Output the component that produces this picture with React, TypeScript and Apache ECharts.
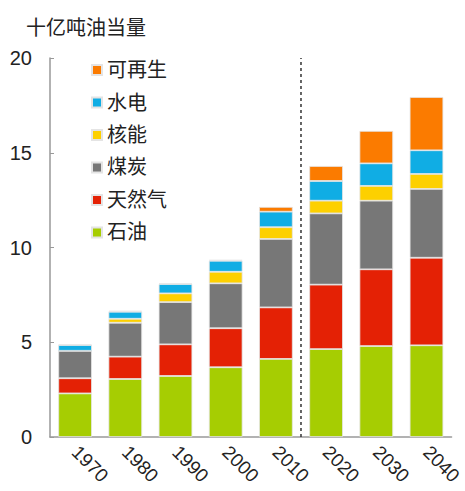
import React, { useEffect, useRef } from "react";
import * as echarts from "echarts";

const years = ["1970", "1980", "1990", "2000", "2010", "2020", "2030", "2040"];
const oil = [2.3, 3.06, 3.22, 3.68, 4.12, 4.64, 4.8, 4.84];
const gas = [0.8, 1.18, 1.67, 2.06, 2.72, 3.4, 4.05, 4.62];
const coal = [1.45, 1.79, 2.23, 2.37, 3.61, 3.76, 3.62, 3.63];
const nuclear = [0.0, 0.21, 0.46, 0.61, 0.62, 0.67, 0.78, 0.79];
const hydro = [0.3, 0.37, 0.49, 0.58, 0.82, 1.04, 1.19, 1.25];
const renewable = [0.04, 0.05, 0.04, 0.05, 0.25, 0.79, 1.71, 2.81];
const yTicks = [0, 5, 10, 15, 20];
const dividerIndex = 5;

const seriesDefs = [
  { name: "石油", data: oil, color: "#a6cd02" },
  { name: "天然气", data: gas, color: "#e42105" },
  { name: "煤炭", data: coal, color: "#777777" },
  { name: "核能", data: nuclear, color: "#fdd000" },
  { name: "水电", data: hydro, color: "#10ade4" },
  { name: "可再生", data: renewable, color: "#fb7b00" },
];

export default function App() {
  const ref = useRef<HTMLDivElement>(null);
  useEffect(() => {
    if (!ref.current) return;
    const chart = echarts.init(ref.current, null, { renderer: "svg" });
    const font = "Liberation Sans, Arial, Noto Sans CJK SC, sans-serif";
    chart.setOption({
      animation: false,
      textStyle: { fontFamily: font },
      title: {
        text: "十亿吨油当量",
        left: 21,
        top: 13,
        textStyle: { fontSize: 20, fontWeight: "normal", color: "#222", fontFamily: font },
      },
      legend: {
        orient: "vertical",
        left: 86,
        top: 55,
        itemWidth: 10,
        itemHeight: 10,
        itemGap: 12.5,
        icon: "rect",
        data: ["可再生", "水电", "核能", "煤炭", "天然气", "石油"],
        textStyle: { fontSize: 20, color: "#222", fontFamily: font },
      },
      grid: { left: 50, right: 10, top: 58, bottom: 54, containLabel: false },
      xAxis: [
        {
          type: "category",
          data: years,
          axisLine: { lineStyle: { color: "#999", width: 1.5 } },
          axisTick: { show: false },
          axisLabel: { rotate: -45, fontSize: 19, color: "#222", margin: 12, fontFamily: font },
        },
        { type: "value", min: 0, max: years.length, show: false },
      ],
      yAxis: {
        type: "value",
        min: yTicks[0],
        max: yTicks[yTicks.length - 1],
        interval: 5,
        splitLine: { show: false },
        axisLine: { show: true, lineStyle: { color: "#999", width: 1.5 } },
        axisTick: { show: true, inside: true, length: 4, lineStyle: { color: "#999" } },
        axisLabel: { fontSize: 20, color: "#222", margin: 18, fontFamily: font },
      },
      series: [
        ...seriesDefs.map((s) => ({
          name: s.name,
          type: "bar",
          stack: "total",
          data: s.data,
          barCategoryGap: "33%",
          itemStyle: { color: s.color, borderColor: "#e4e4e4", borderWidth: 0.8 },
        })),
        {
          name: "divider",
          type: "line",
          xAxisIndex: 1,
          yAxisIndex: 0,
          data: [
            [dividerIndex, yTicks[0]],
            [dividerIndex, yTicks[yTicks.length - 1]],
          ],
          symbol: "none",
          silent: true,
          lineStyle: { color: "#333", width: 1.5, type: [3, 3] },
        },
      ],
    });
    return () => chart.dispose();
  }, []);
  return <div ref={ref} style={{ width: 465, height: 491, position: "absolute", left: 0, top: 0 }} />;
}
